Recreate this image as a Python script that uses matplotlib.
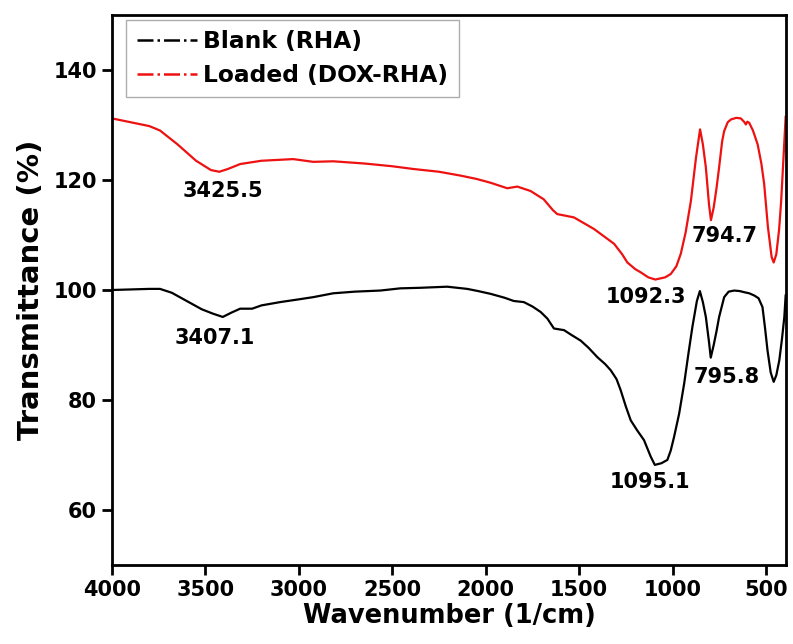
import matplotlib.pyplot as plt
from matplotlib.lines import Line2D

plt.rcParams["font.family"] = "DejaVu Sans"
plt.rcParams["font.weight"] = "bold"

# FTIR spectra (wavenumber in 1/cm, transmittance in %)
wn_loaded = [4000, 3900, 3800, 3743, 3650, 3550, 3470, 3425.5, 3380, 3314, 3200, 3030,
             2923, 2816, 2650, 2500, 2387, 2250, 2135, 2050, 1974, 1885, 1831, 1760,
             1690, 1640, 1617, 1528, 1421, 1313, 1270, 1242, 1200, 1170, 1130, 1092.3,
             1040, 1010, 980, 956, 930, 902, 875, 853, 838, 822, 805, 794.7, 780, 765,
             751, 735, 724, 705, 688, 660, 635, 615, 608, 600, 590, 570, 545, 525, 510,
             490, 470, 459, 445, 430, 419, 405, 395]
t_loaded = [131.2, 130.5, 129.8, 129.0, 126.5, 123.5, 121.8, 121.5, 122.0, 122.9, 123.5, 123.8,
            123.3, 123.4, 123.0, 122.5, 122.0, 121.5, 120.8, 120.2, 119.5, 118.5, 118.8, 118.0,
            116.5, 114.5, 113.8, 113.2, 111.1, 108.4, 106.5, 105.0, 103.8, 103.2, 102.3, 101.9,
            102.3, 102.9, 104.3, 106.6, 110.5, 116.2, 124.0, 129.2, 126.5, 122.3, 115.5, 112.7,
            115.0, 118.5, 122.3, 127.0, 128.9, 130.5, 131.0, 131.3, 131.2, 130.5, 130.1, 130.6,
            130.4, 129.0, 126.5, 123.0, 119.3, 111.5, 106.0, 105.0, 106.5, 111.0, 116.2, 125.0,
            131.5]

wn_blank = [4000, 3900, 3800, 3743, 3680, 3600, 3520, 3460, 3407.1, 3360, 3314, 3250, 3200,
            3100, 3000, 2923, 2816, 2700, 2564, 2457, 2350, 2206, 2099, 2040, 1974, 1900,
            1850, 1796, 1750, 1706, 1670, 1635, 1581, 1540, 1492, 1450, 1403, 1360, 1331,
            1300, 1278, 1250, 1224, 1190, 1153, 1117, 1095.1, 1060, 1028, 1010, 992, 965,
            938, 915, 894, 870, 854, 838, 822, 805, 795.8, 780, 765, 751, 724, 700, 670,
            640, 617, 590, 563, 540, 519, 505, 492, 475, 459, 445, 429, 415, 402, 395]
t_blank = [100.0, 100.1, 100.2, 100.2, 99.5, 98.0, 96.5, 95.7, 95.1, 95.9, 96.6, 96.6, 97.2,
           97.8, 98.3, 98.7, 99.4, 99.7, 99.9, 100.3, 100.4, 100.6, 100.2, 99.8, 99.3, 98.6,
           98.0, 97.8, 97.0, 96.0, 94.8, 93.0, 92.7, 91.8, 90.8, 89.5, 87.8, 86.5, 85.4,
           83.8, 81.8, 78.8, 76.3, 74.5, 72.7, 69.7, 68.2, 68.5, 69.1, 70.8, 73.3, 77.5,
           83.0, 88.5, 93.3, 98.0, 99.8, 97.8, 95.1, 90.5, 87.7, 90.0, 92.5, 95.1, 98.7, 99.7,
           99.9, 99.8, 99.6, 99.4, 99.0, 98.5, 96.9, 93.0, 89.0, 85.0, 83.3, 84.5, 87.2, 91.0,
           95.1, 99.0]

# peak labels: text, x, y
peak_text = ["3425.5", "3407.1", "1092.3", "794.7", "1095.1", "795.8"]
peak_x = [3405, 3448, 1144, 724, 1121, 712]
peak_y = [118.0, 91.3, 98.7, 109.9, 65.0, 84.2]

fig = plt.figure(figsize=(7.93, 6.44), dpi=100)
ax = fig.add_axes([0.1412, 0.1227, 0.8500, 0.8540])

ax.plot(wn_blank, t_blank, color="black", lw=1.6)
ax.plot(wn_loaded, t_loaded, color="#ee1111", lw=1.6)

for txt, x, y in zip(peak_text, peak_x, peak_y):
    ax.text(x, y, txt, ha="center", va="center", fontsize=15, fontweight="bold")

ax.set_xlim(4000, 393)
ax.set_ylim(50, 150)
ax.set_xticks([4000, 3500, 3000, 2500, 2000, 1500, 1000, 500])
ax.set_yticks([60, 80, 100, 120, 140])
ax.tick_params(axis="both", direction="out", length=7, width=2, labelsize=15, pad=4)
for s in ax.spines.values():
    s.set_linewidth(2)

ax.set_xlabel("Wavenumber (1/cm)", fontsize=18.5, fontweight="bold", labelpad=2)
ax.set_ylabel("Transmittance (%)", fontsize=21, fontweight="bold", labelpad=6)

handles = [Line2D([], [], color="black", lw=1.8, linestyle="-."),
           Line2D([], [], color="#ee1111", lw=1.8, linestyle="-.")]
leg = ax.legend(handles, ["Blank (RHA)", "Loaded (DOX-RHA)"], loc="upper left",
                bbox_to_anchor=(0.021, 0.991), fontsize=16.8, frameon=True, fancybox=False,
                handlelength=2.6, handletextpad=0.25, borderpad=0.45, labelspacing=0.45,
                borderaxespad=0)
leg.get_frame().set_edgecolor("#999999")
leg.get_frame().set_linewidth(1)

fig.savefig("out.png", dpi=100)
